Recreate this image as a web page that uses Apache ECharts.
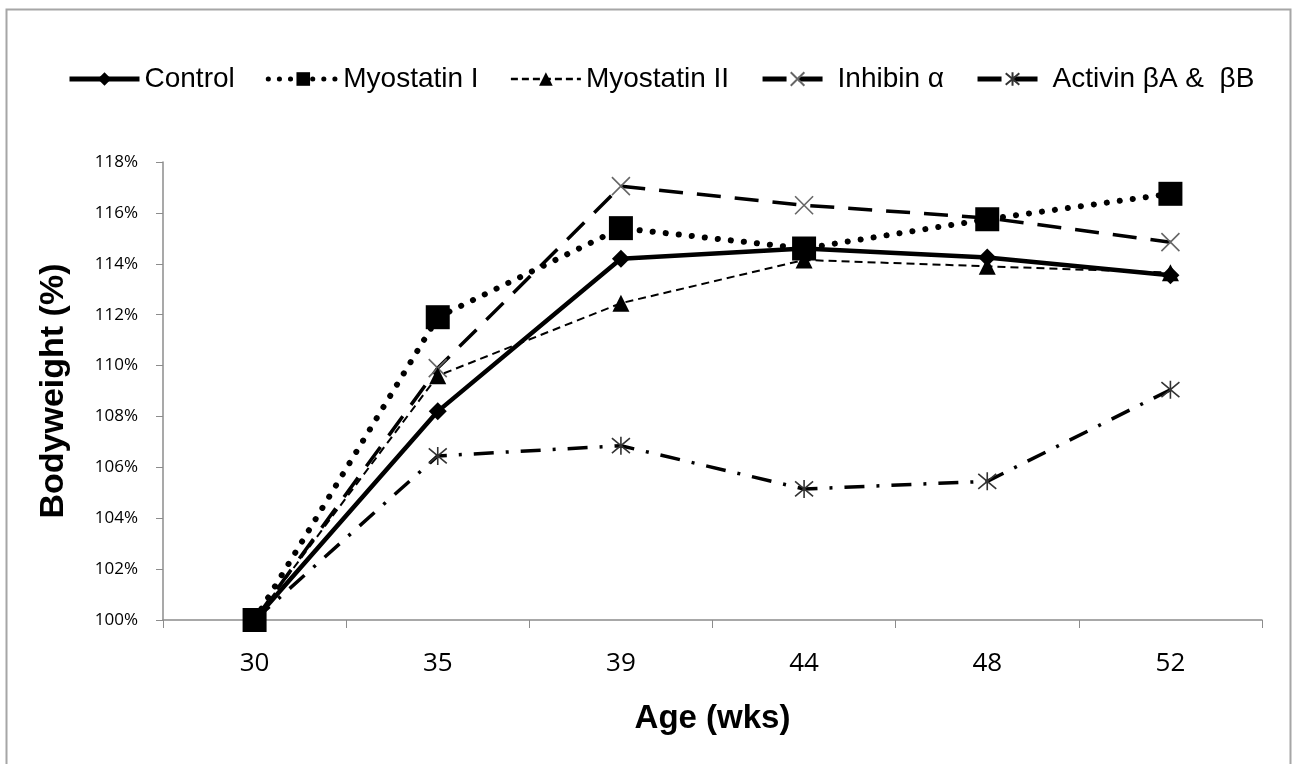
<!DOCTYPE html>
<html><head><meta charset="utf-8">
<script src="https://cdn.jsdelivr.net/npm/echarts@6/dist/echarts.min.js"></script>
<style>html,body{margin:0;padding:0;background:#fff}#c{width:1298px;height:764px}</style>
</head><body><div id="c"></div>
<script>
const categories = ['30','35','39','44','48','52'];
const control = [100, 108.2, 114.2, 114.6, 114.25, 113.55];
const myostatinI = [100, 111.9, 115.4, 114.6, 115.75, 116.75];
const myostatinII = [100, 109.6, 112.45, 114.15, 113.9, 113.65];
const inhibin = [100, 109.9, 117.05, 116.3, 115.8, 114.85];
const activin = [100, 106.45, 106.85, 105.15, 105.45, 109.05];
const seriesNames = ['Control', 'Myostatin I', 'Myostatin II', 'Inhibin α', 'Activin βA &  βB'];
const yTicks = {min: 100, max: 118, interval: 2};

const xPath = 'path://M0,0L10,10M10,0L0,10';
const starPath = 'path://M0,0L10,10M10,0L0,10M5,-1L5,11';

const styles = [
  {symbol: 'diamond', symbolSize: 18, line: {color: '#000', width: 4.5, type: 'solid'}, item: {color: '#000'}},
  {symbol: 'rect', symbolSize: 24, line: {color: '#000', width: 6, type: [0.1, 13], cap: 'round'}, item: {color: '#000'}},
  {symbol: 'triangle', symbolSize: 17, line: {color: '#000', width: 2, type: [8, 5]}, item: {color: '#000'}},
  {symbol: xPath, symbolSize: 18, line: {color: '#000', width: 3.5, type: [24, 14]}, item: {color: 'none', borderColor: '#666', borderWidth: 1.6}},
  {symbol: starPath, symbolSize: 18, line: {color: '#000', width: 3.5, type: [20, 12, 3, 12]}, item: {color: 'none', borderColor: '#333', borderWidth: 1.6}}
];
const legendLine = [
  {color: '#000', width: 5, type: 'solid'},
  {color: '#000', width: 5, type: [0.1, 11], cap: 'round'},
  {color: '#000', width: 2.5, type: [7, 4]},
  {color: '#000', width: 5, type: [24, 12]},
  {color: '#000', width: 5, type: [24, 12]}
];

const chart = echarts.init(document.getElementById('c'));
const axisGray = '#8c8c8c';
chart.setOption({
  animation: false,
  backgroundColor: '#fff',
  graphic: [{type:'rect', shape:{x:6.5,y:9.5,width:1284,height:770}, style:{fill:'none', stroke:'#a6a6a6', lineWidth:2}, silent:true}],
  legend: {
    top: 60, left: 62, itemWidth: 70, itemHeight: 17, itemGap: 31,
    textStyle: {fontFamily: 'Liberation Sans, Arial', fontSize: 28, color: '#000'},
    data: seriesNames.map((n, i) => ({name: n, lineStyle: legendLine[i]}))
  },
  grid: {left: 163, right: 36, top: 162, bottom: 144},
  xAxis: {
    type: 'category', data: categories, boundaryGap: true,
    name: 'Age (wks)', nameLocation: 'middle', nameGap: 82,
    nameTextStyle: {fontFamily: 'Liberation Sans, Arial', fontSize: 33, fontWeight: 'bold', color: '#000'},
    axisLine: {lineStyle: {color: axisGray, width: 1.5}},
    axisTick: {show: true, length: 8, lineStyle: {color: axisGray}, alignWithLabel: false},
    axisLabel: {fontFamily: 'Open Sans, Liberation Sans', fontSize: 26, color: '#000', margin: 31}
  },
  yAxis: {
    type: 'value', min: yTicks.min, max: yTicks.max, interval: yTicks.interval,
    name: 'Bodyweight (%)', nameLocation: 'middle', nameGap: 92, nameRotate: 90,
    nameTextStyle: {fontFamily: 'Liberation Sans, Arial', fontSize: 34, fontWeight: 'bold', color: '#000'},
    splitLine: {show: false},
    axisLine: {show: true, lineStyle: {color: axisGray, width: 1.5}},
    axisTick: {show: true, length: 7, lineStyle: {color: axisGray}},
    axisLabel: {fontFamily: 'Open Sans, Liberation Sans', fontSize: 17, color: '#000', margin: 25,
      formatter: v => Math.round(v) + '%'}
  },
  series: [control, myostatinI, myostatinII, inhibin, activin].map((d, i) => ({
    name: seriesNames[i], type: 'line', data: d, z: 6 - i,
    symbol: styles[i].symbol, symbolSize: styles[i].symbolSize,
    lineStyle: styles[i].line, itemStyle: styles[i].item
  }))
});
</script></body></html>
